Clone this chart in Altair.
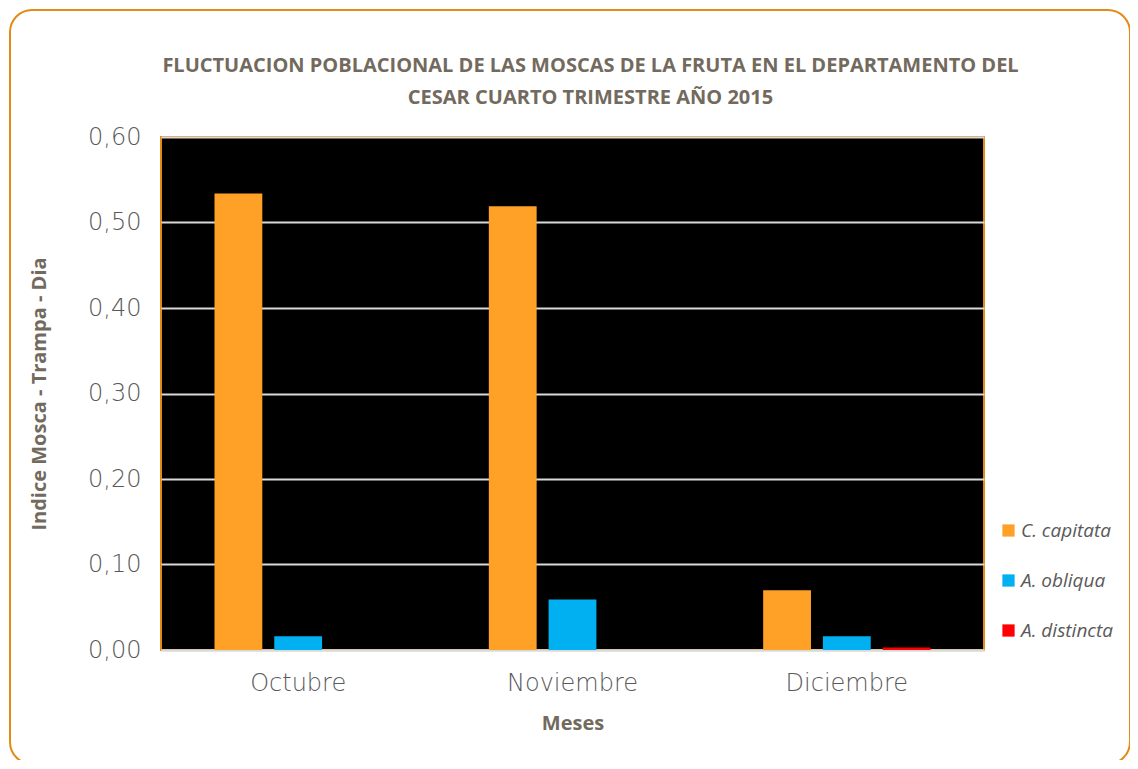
import altair as alt
import pandas as pd

months = ["Octubre", "Noviembre", "Diciembre"]
species = ["C. capitata", "A. obliqua", "A. distincta"]
c_capitata = [0.534, 0.519, 0.070]
a_obliqua = [0.016, 0.059, 0.016]
a_distincta = [0.0, 0.0, 0.003]
colors = ["#FFA126", "#00B0F0", "#FF0000"]
y_ticks = [0.0, 0.1, 0.2, 0.3, 0.4, 0.5, 0.6]

rows = []
for sp, vals in zip(species, [c_capitata, a_obliqua, a_distincta]):
    for m, v in zip(months, vals):
        rows.append({"Mes": m, "Especie": sp, "Valor": v})
df = pd.DataFrame(rows)

title_color = "#736A5E"
label_font = "DejaVu Sans"

bars = alt.Chart(df).mark_bar().encode(
    x=alt.X("Mes:N", sort=months,
            scale=alt.Scale(paddingInner=0.39, paddingOuter=0.195),
            axis=alt.Axis(title="Meses", labelAngle=0, ticks=False, labelPadding=21,
                          labelFontSize=24, labelFont=label_font, labelFontWeight=300,
                          labelColor="#595959",
                          titleFontSize=20, titleFont="Open Sans", titleFontWeight="bold",
                          titleColor=title_color, titlePadding=18,
                          domainColor="#D9D9D9", domainWidth=2)),
    xOffset=alt.XOffset("Especie:N", sort=species,
                        scale=alt.Scale(paddingInner=0.2, paddingOuter=0)),
    y=alt.Y("Valor:Q", scale=alt.Scale(domain=[0, 0.6]),
            axis=alt.Axis(title="Indice Mosca - Trampa - Dia", values=y_ticks,
                          labelExpr="replace(format(datum.value, '.2f'), '.', ',')",
                          ticks=False, domain=False, labelPadding=20,
                          labelFontSize=24, labelFont=label_font, labelFontWeight=300,
                          labelColor="#595959",
                          titleFontSize=20, titleFont="Open Sans", titleFontWeight="bold",
                          titleColor=title_color, titlePadding=38,
                          gridColor="#D9D9D9", gridWidth=2)),
    color=alt.Color("Especie:N", sort=species,
                    scale=alt.Scale(domain=species, range=colors),
                    legend=alt.Legend(title=None, orient="none", legendX=838, legendY=384,
                                      symbolType="square", symbolSize=150,
                                      symbolStrokeWidth=0,
                                      labelFontSize=19, labelFont="Open Sans",
                                      labelFontStyle="italic", labelColor="#595959",
                                      rowPadding=30, labelOffset=3)),
)

frame = alt.Chart(alt.Data(values=[{}])).mark_rect(
    fill="transparent", stroke="#E38B15", strokeWidth=2, cornerRadius=22
).encode(x=alt.value(-151), x2=alt.value(969), y=alt.value(-127), y2=alt.value(627))

chart = alt.layer(frame, bars).properties(
    width=823, height=513,
    background="white",
    title=alt.TitleParams(
        ["FLUCTUACION POBLACIONAL DE LAS MOSCAS DE LA FRUTA EN EL DEPARTAMENTO DEL",
         "CESAR CUARTO TRIMESTRE AÑO 2015"],
        anchor="middle", dx=18, fontSize=20, font="Open Sans", fontWeight="bold",
        color=title_color, lineHeight=32, offset=-99),
    autosize=alt.AutoSizeParams(type="none"),
    padding={"left": 153, "top": 129, "right": 146, "bottom": 110},
).configure_view(fill="black", stroke="#E38B15", strokeWidth=2)

chart.save("out.html", embed_options={"renderer": "svg", "actions": False})
